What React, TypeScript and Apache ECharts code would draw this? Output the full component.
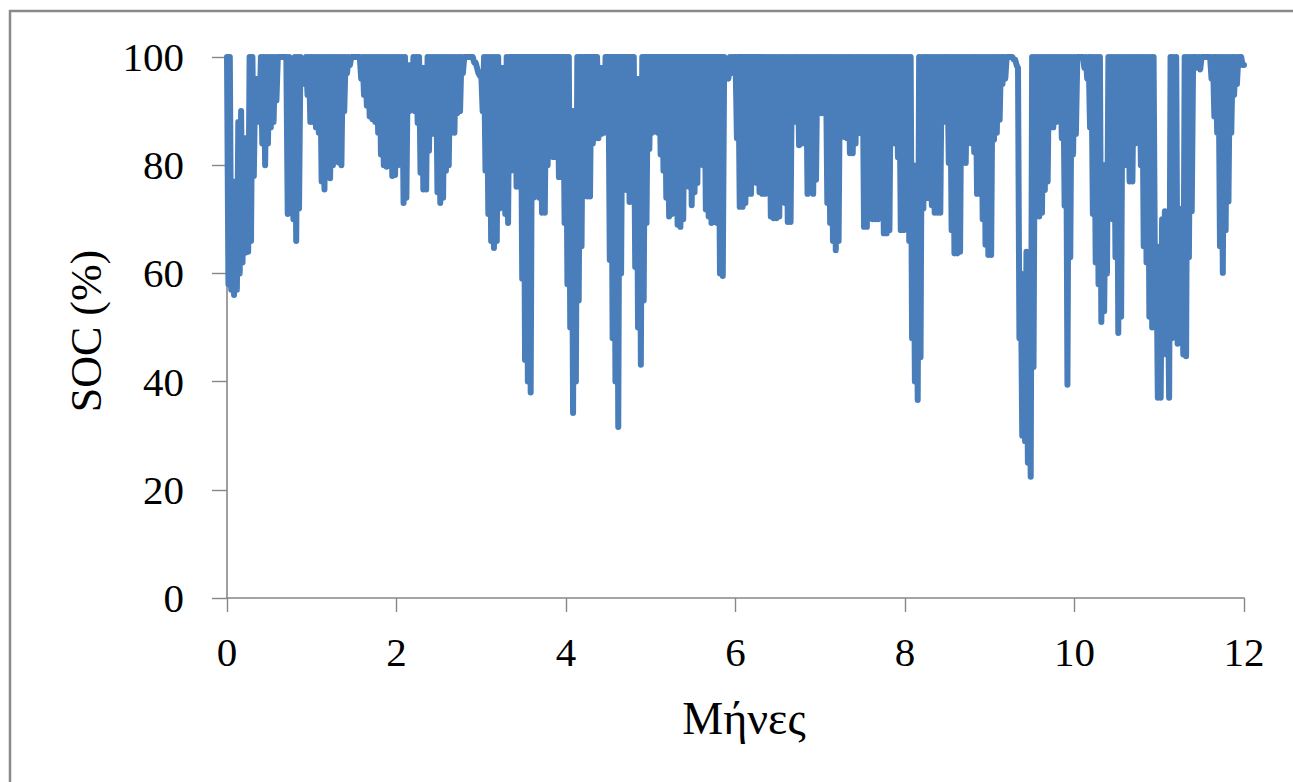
import React, { useEffect, useRef } from "react";
import * as echarts from "echarts";

// Daily SOC readings (%): 30 days per month.
// For each day: the highest SOC (dailyMax) and the lowest SOC (dailyMin).
const DAYS_PER_MONTH = 30;

const dailyMinM0 = [58, 57, 56, 57, 60, 62, 63.8, 64, 66, 78, 90, 88, 84, 80, 84, 87, 88, 92, 100, 100, 100, 71, 74, 70, 66, 72, 95, 95, 93, 88];
const dailyMaxM0 = [100, 100, 77, 77, 88, 90, 85, 85, 100, 100, 96, 96, 100, 100, 100, 100, 100, 100, 100, 100, 100, 100, 100, 94, 100, 100, 100, 96, 100, 100];

const dailyMinM1 = [88, 87, 86, 77, 75.5, 78, 77.6, 80, 81, 80.5, 80, 90, 97, 98.5, 100, 100, 100, 96, 93, 91, 89, 88.5, 88, 86, 82, 80, 79.7, 80, 78, 78.2];
const dailyMaxM1 = [100, 100, 100, 100, 100, 100, 100, 100, 100, 100, 100, 100, 100, 100, 100, 100, 100, 100, 100, 100, 100, 100, 100, 100, 100, 100, 100, 100, 100, 100];

const dailyMinM2 = [80, 82, 73, 74, 90, 92, 90, 87.8, 78.6, 75.5, 75.5, 82.7, 85.8, 85.8, 75, 73, 74, 79, 80, 86, 86, 89.6, 90, 97, 100, 100, 100, 99, 98, 96.5];
const dailyMaxM2 = [100, 100, 100, 100, 98.5, 98.5, 100, 100, 100, 98, 98, 100, 100, 100, 100, 100, 100, 100, 100, 100, 100, 100, 100, 100, 100, 100, 100, 100, 99, 97];

const dailyMinM3 = [90, 79, 71, 66, 64.7, 66, 72, 77, 71, 69.3, 79, 86, 76, 76, 59, 44, 40, 38, 74, 75, 74, 71.2, 71.2, 80, 88.4, 81.5, 81.5, 77.8, 77.8, 69.3];
const dailyMaxM3 = [97, 100, 100, 100, 100, 100, 100, 98, 98, 100, 100, 100, 100, 100, 100, 100, 100, 100, 100, 100, 100, 100, 100, 100, 100, 100, 100, 100, 100, 100];

const dailyMinM4 = [58, 50, 34.2, 40, 55, 65, 79, 74.2, 74.2, 84, 85, 85, 85.8, 86, 86, 62.5, 48, 40, 31.6, 60, 80, 75.4, 73.2, 73.5, 61.2, 50, 43.1, 55, 69.3, 83];
const dailyMaxM4 = [100, 100, 90, 90, 100, 100, 100, 100, 100, 100, 100, 100, 98, 98, 100, 100, 100, 100, 100, 100, 100, 100, 100, 100, 100, 96, 96, 100, 100, 100];

const dailyMinM5 = [86, 89, 86, 82, 79, 74, 70.5, 71, 80.4, 69, 68.6, 70, 78.6, 76, 72.6, 75, 76.7, 85.9, 80, 71.8, 70.5, 69.3, 69.5, 69.3, 60, 59.5, 96, 96, 97, 98];
const dailyMaxM5 = [100, 100, 100, 100, 100, 100, 100, 100, 100, 100, 100, 100, 100, 100, 100, 100, 100, 100, 100, 100, 100, 100, 100, 100, 100, 100, 100, 99, 100, 100];

const dailyMinM6 = [85, 72.3, 72.3, 73, 74.7, 74.7, 85, 76.7, 75, 74.7, 74.7, 75, 70.5, 70.2, 70.2, 70.5, 73.3, 73, 69.5, 69.5, 92.7, 88, 83.7, 84, 86.8, 74.7, 75, 74.7, 77.3, 89.6];
const dailyMaxM6 = [100, 100, 100, 100, 100, 100, 100, 100, 100, 100, 100, 100, 100, 100, 100, 100, 100, 100, 100, 100, 100, 100, 100, 100, 100, 100, 100, 100, 100, 100];

const dailyMinM7 = [89.6, 94.5, 73, 69.3, 66, 64.3, 66, 85.2, 85.2, 85, 82.2, 82.2, 84, 85.9, 92.7, 68.6, 68.6, 70.5, 70, 70, 70, 73.9, 67.4, 67.4, 68, 84, 84, 81.5, 68, 68];
const dailyMaxM7 = [100, 100, 100, 100, 100, 100, 100, 100, 100, 100, 100, 100, 100, 100, 100, 100, 100, 100, 100, 100, 100, 100, 100, 100, 100, 100, 100, 100, 100, 100];

const dailyMinM8 = [80, 66, 48, 40, 36.6, 44.5, 72, 73.9, 73.9, 72.6, 71.2, 71.2, 71.2, 88, 91.7, 80.4, 68, 63.7, 63.7, 64, 80.4, 80.4, 85.2, 84, 82.4, 74.7, 74.7, 70, 65.3, 63.4];
const dailyMaxM8 = [100, 100, 100, 80, 78, 100, 100, 100, 100, 100, 100, 100, 100, 100, 100, 100, 100, 100, 100, 100, 100, 100, 100, 100, 100, 100, 100, 100, 100, 100];

const dailyMinM9 = [63.4, 84.7, 86, 88.4, 95, 96, 100, 100, 99.5, 98.5, 48, 30, 29, 25, 22.4, 42.7, 70.5, 70.5, 71.2, 75.4, 77, 87, 87, 88, 96, 85, 72.5, 39.4, 63, 82];
const dailyMaxM9 = [100, 100, 100, 100, 100, 100, 100, 100, 100, 99.5, 98, 60, 45, 64, 40, 100, 100, 100, 100, 100, 100, 100, 100, 100, 100, 100, 100, 100, 100, 100];

const dailyMinM10 = [85.8, 100, 100, 98, 96, 87, 71, 62, 58, 51, 53, 60, 72, 70, 63, 49, 52, 85, 80, 77, 77, 84, 88, 80, 65, 62, 52, 50, 58, 37];
const dailyMaxM10 = [100, 100, 100, 100, 100, 100, 100, 100, 100, 100, 80, 80, 100, 100, 100, 100, 100, 100, 100, 100, 100, 100, 100, 100, 100, 100, 100, 100, 100, 65];

const dailyMinM11 = [37, 55, 45, 37, 48, 60, 47, 55, 45, 44.7, 63, 71.5, 100, 98, 97.7, 100, 100, 100, 96, 89, 86, 65, 60.1, 68, 73.3, 86, 93, 95, 100, 98.5];
const dailyMaxM11 = [60, 70, 71.5, 60, 100, 100, 100, 72, 65, 100, 100, 100, 100, 100, 100, 100, 100, 100, 100, 100, 100, 100, 100, 100, 100, 100, 100, 100, 100, 100];

const finalSoc = 98.5; // reading at the end of month 12

const dailyMin = [
  ...dailyMinM0, ...dailyMinM1, ...dailyMinM2, ...dailyMinM3, ...dailyMinM4, ...dailyMinM5,
  ...dailyMinM6, ...dailyMinM7, ...dailyMinM8, ...dailyMinM9, ...dailyMinM10, ...dailyMinM11,
];
const dailyMax = [
  ...dailyMaxM0, ...dailyMaxM1, ...dailyMaxM2, ...dailyMaxM3, ...dailyMaxM4, ...dailyMaxM5,
  ...dailyMaxM6, ...dailyMaxM7, ...dailyMaxM8, ...dailyMaxM9, ...dailyMaxM10, ...dailyMaxM11,
];

const xTicks = { min: 0, max: 12, interval: 2 };
const yTicks = { min: 0, max: 100, interval: 20 };
const xTitle = "Μήνες";
const yTitle = "SOC (%)";

const FONT = "'Liberation Serif', 'Times New Roman', serif";
const AXIS_GRAY = "#878787";

export default function App() {
  const ref = useRef<HTMLDivElement>(null);

  useEffect(() => {
    if (!ref.current) return;
    const chart = echarts.init(ref.current, undefined, { renderer: "svg" });

    // each day: high point at the day's start, lowest point at mid-day
    const data: number[][] = [];
    dailyMax.forEach((hi, d) => {
      data.push([d / DAYS_PER_MONTH, hi]);
      data.push([(d + 0.5) / DAYS_PER_MONTH, dailyMin[d]]);
    });
    data.push([dailyMax.length / DAYS_PER_MONTH, finalSoc]);

    chart.setOption({
      animation: false,
      backgroundColor: "#ffffff",
      grid: { left: 227, right: 49, top: 57, bottom: 184, containLabel: false },
      xAxis: {
        type: "value",
        min: xTicks.min,
        max: xTicks.max,
        interval: xTicks.interval,
        splitLine: { show: false },
        axisLine: { show: true, lineStyle: { color: AXIS_GRAY, width: 1.6 } },
        axisTick: { show: true, length: 14, lineStyle: { color: AXIS_GRAY, width: 1.4 } },
        axisLabel: { color: "#000", fontFamily: FONT, fontSize: 41, margin: 33 },
      },
      yAxis: {
        type: "value",
        min: yTicks.min,
        max: yTicks.max,
        interval: yTicks.interval,
        splitLine: { show: false },
        axisLine: { show: true, lineStyle: { color: AXIS_GRAY, width: 1.6 } },
        axisTick: { show: true, length: 15, lineStyle: { color: AXIS_GRAY, width: 1.4 } },
        axisLabel: { color: "#000", fontFamily: FONT, fontSize: 41, margin: 43 },
      },
      graphic: [
        {
          type: "rect",
          silent: true,
          shape: { x: 10, y: 11, width: 1400, height: 900 },
          style: { fill: "none", stroke: "#8a8a8a", lineWidth: 2.5 },
        },
        {
          type: "text",
          silent: true,
          x: 86,
          y: 331,
          rotation: Math.PI / 2,
          style: {
            text: yTitle,
            fill: "#000",
            font: `44px ${FONT}`,
            align: "center",
            verticalAlign: "middle",
          },
        },
        {
          type: "text",
          silent: true,
          x: 744,
          y: 718,
          style: {
            text: xTitle,
            fill: "#000",
            font: `46px ${FONT}`,
            align: "center",
            verticalAlign: "middle",
          },
        },
      ],
      series: [
        {
          type: "line",
          data,
          showSymbol: false,
          symbol: "none",
          clip: true,
          lineStyle: { color: "#4a7ebb", width: 6, cap: "round", join: "round" },
          silent: true,
        },
      ],
    });

    return () => chart.dispose();
  }, []);

  return (
    <div
      ref={ref}
      style={{ position: "absolute", left: 0, top: 0, width: 1293, height: 782, background: "#fff" }}
    />
  );
}
